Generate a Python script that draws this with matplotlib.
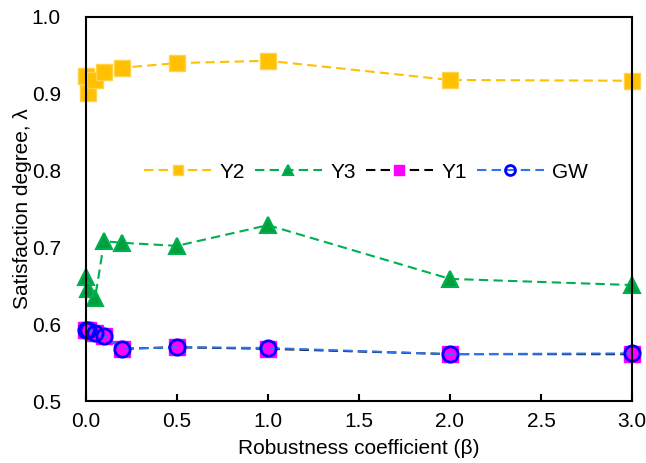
import numpy as np
import matplotlib.pyplot as plt

plt.rcParams['font.family'] = ['Liberation Sans', 'DejaVu Sans']

beta = [0.0, 0.01, 0.05, 0.1, 0.2, 0.5, 1.0, 2.0, 3.0]
y2 = [0.923, 0.901, 0.918, 0.928, 0.934, 0.940, 0.943, 0.918, 0.917]
y3 = [0.662, 0.646, 0.634, 0.708, 0.706, 0.702, 0.729, 0.659, 0.651]
y1 = [0.593, 0.592, 0.589, 0.585, 0.568, 0.570, 0.568, 0.561, 0.561]
gw = [0.593, 0.592, 0.589, 0.585, 0.568, 0.570, 0.569, 0.561, 0.562]

fig = plt.figure(figsize=(6.46, 4.63), dpi=100)
ax = fig.add_axes([0.1331, 0.1339, 0.8452, 0.8294])

dash = (4.5, 2.5)
ax.plot(beta, y2, ls='--', dashes=dash, lw=1.5, color='#FFC000',
        marker='s', ms=11, mfc='#FFC000', mec='#FFD24D', mew=1, label='Y2', clip_on=False)
ax.plot(beta, y3, ls='--', dashes=dash, lw=1.5, color='#00B050',
        marker='^', ms=11, mfc='#00A03C', mec='#00B050', mew=1.5, label='Y3', clip_on=False)
ax.plot(beta, y1, ls='--', dashes=dash, lw=1.5, color='black',
        marker='s', ms=11, mfc='#FF00FF', mec='#FF00FF', mew=1, label='Y1', clip_on=False)
ax.plot(beta, gw, ls='--', dashes=dash, lw=1.5, color='#2E75F0',
        marker='o', ms=11, mfc='none', mec='#0000FF', mew=2, label='GW', clip_on=False)

ax.set_xlim(0, 3.0)
ax.set_ylim(0.5, 1.0)
ax.set_xticks(np.arange(0, 3.01, 0.5))
ax.set_yticks(np.arange(0.5, 1.01, 0.1))
ax.xaxis.set_major_formatter(plt.FormatStrFormatter('%.1f'))
ax.yaxis.set_major_formatter(plt.FormatStrFormatter('%.1f'))
ax.tick_params(axis='x', direction='in', length=5, width=1.5, labelsize=15, pad=8)
ax.tick_params(axis='y', length=0, labelsize=15, pad=18)
for s in ax.spines.values():
    s.set_linewidth(1.5)

ax.set_xlabel('Robustness coefficient (β)', fontsize=15, labelpad=6)
ax.set_ylabel('Satisfaction degree, λ', fontsize=15, labelpad=0)

ax.legend(loc='center', bbox_to_anchor=(0.513, 0.596), ncol=4, frameon=False,
          fontsize=15, handlelength=3.2, handletextpad=0.4, columnspacing=0.5,
          markerscale=0.65)

fig.savefig('out.png', dpi=100)
